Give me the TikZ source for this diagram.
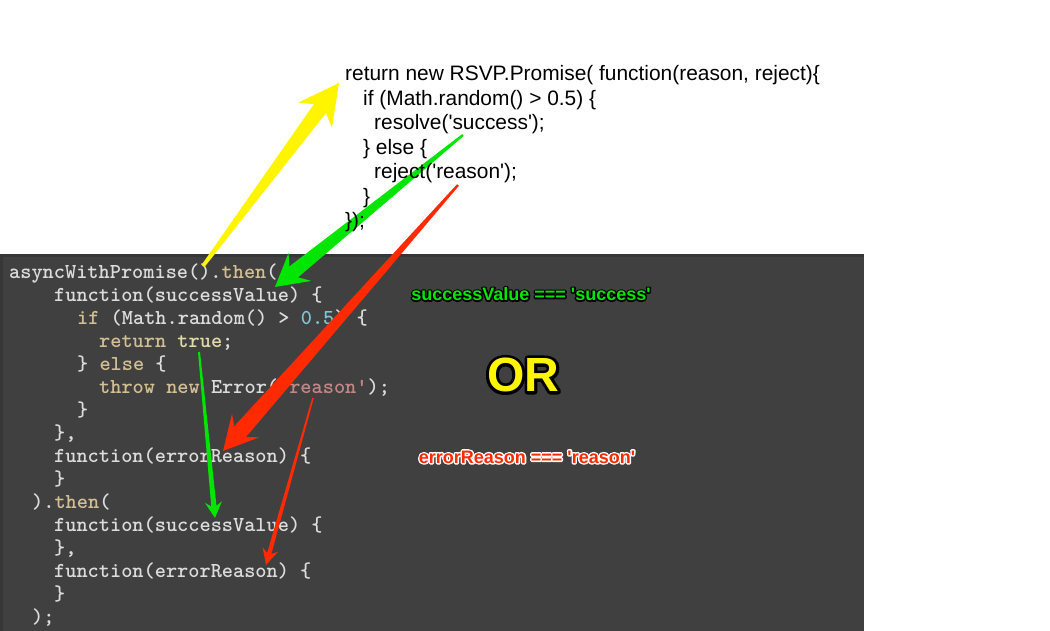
\documentclass[tikz,border=0pt]{standalone}
\usepackage{fontspec}
\usetikzlibrary{calc}
\newfontfamily\hv{Liberation Sans}
\newfontfamily\hvb{Liberation Sans Bold}
\definecolor{panelbg}{HTML}{404040}
\definecolor{paneltop}{HTML}{34373A}
\definecolor{panelleft}{HTML}{373737}
\definecolor{codefg}{HTML}{DCDCDC}
\definecolor{kwc}{HTML}{D4BF94}
\definecolor{truec}{HTML}{E2DBA6}
\definecolor{numc}{HTML}{82C6D6}
\definecolor{strc}{HTML}{C48787}
\definecolor{agreen}{HTML}{00E600}
\definecolor{ared}{HTML}{FF2A00}
\definecolor{ayellow}{HTML}{FFF500}
\newcommand\kw[1]{\textcolor{kwc}{#1}}
\newcommand\tru[1]{\textcolor{truec}{#1}}
\newcommand\nm[1]{\textcolor{numc}{#1}}
\newcommand\st[1]{\textcolor{strc}{#1}}
% outlined text: #1 outline colour, #2 stroke width (bp), #3 fill colour, #4 text
\newcommand\outlined[4]{%
  \makebox[0pt][l]{\color{#1}\special{pdf:code 1 Tr #2 w 1 j}#4\special{pdf:code 0 Tr}}%
  \textcolor{#3}{#4}}
\newcommand\tapered[8]{%
  \coordinate (#1-j) at ($(#2)!#5!(#1)$);
  \coordinate (#1-b) at ($(#2)!#6!(#1)$);
  \fill[#8] ($(#1)!#3!90:(#2)$) -- ($(#1-j)!#4!-90:(#1)$) -- ($(#1-b)!#7!-90:(#1)$)
    -- (#2) -- ($(#1-b)!#7!90:(#1)$) -- ($(#1-j)!#4!90:(#1)$) -- ($(#1)!#3!-90:(#2)$) -- cycle;}
\tikzset{
  code/.style={anchor=base west, inner sep=0pt, text=codefg,
    font=\fontsize{21.3}{23}\ttfamily\bfseries},
  top/.style={anchor=base west, inner sep=0pt, text=black,
    font=\fontsize{20.9}{24}\hv},
  lab/.style={inner sep=0pt, font=\fontsize{18}{20}\hvb}
}
\begin{document}
\begin{tikzpicture}[x=1pt,y=-1pt]
\useasboundingbox (0,0) rectangle (1050,631);
% panel
\fill[panelbg] (0,254) rectangle (864,631);
\fill[paneltop] (0,254) rectangle (864,257);
\fill[panelleft] (0,257) rectangle (3,631);
% code
\node[code] (c0) at (9,278.5) {asyncWithPromise().\kw{then}(};
\node[code] (c1) at (54,301.5) {function(successValue) \{};
\node[code] (c2) at (77,324.5) {\kw{if} (Math.random() > \nm{0.5}) \{};
\node[code] (c3) at (99,347.5) {\kw{return} \tru{true};};
\node[code] (c4) at (77,370.5) {\} \kw{else} \{};
\node[code] (c5) at (99,393.5) {\kw{throw} \kw{new} Error(\st{'reason'});};
\node[code] (c6) at (77,416.5) {\}};
\node[code] (c7) at (54,439.5) {\},};
\node[code] (c8) at (54,462.5) {function(errorReason) \{};
\node[code] (c9) at (54,485.5) {\}};
\node[code] (c10) at (32,508.5) {).\kw{then}(};
\node[code] (c11) at (54,531.5) {function(successValue) \{};
\node[code] (c12) at (54,554.5) {\},};
\node[code] (c13) at (54,577.5) {function(errorReason) \{};
\node[code] (c14) at (54,600.5) {\}};
\node[code] (c15) at (32,623.5) {);};
% arrows
\coordinate (ys) at (203,266); \coordinate (yt) at (339,83);
\tapered{ys}{yt}{1.8pt}{7.5pt}{32pt}{40pt}{21pt}{ayellow}
\coordinate (gs) at (463,135); \coordinate (gt) at (275,287);
\tapered{gs}{gt}{1.2pt}{7pt}{24pt}{32pt}{18pt}{agreen}
\coordinate (rs) at (458,185); \coordinate (rt) at (223,451);
\tapered{rs}{rt}{1.2pt}{8pt}{26pt}{34pt}{18pt}{ared}
\coordinate (g2s) at (199,352); \coordinate (g2t) at (215,518);
\tapered{g2s}{g2t}{1pt}{2.6pt}{12pt}{16pt}{8.5pt}{agreen}
\coordinate (r2s) at (313,398); \coordinate (r2t) at (266,565);
\tapered{r2s}{r2t}{0.8pt}{2.2pt}{12pt}{16pt}{8pt}{ared}
% top code
\node[top] (t0) at (345,81) {return new RSVP.Promise( function(reason, reject)\{};
\node[top] (t1) at (363,105.5) {if (Math.random() > 0.5) \{};
\node[top] (t2) at (374,130) {resolve('success');};
\node[top] (t3) at (363,154.5) {\} else \{};
\node[top] (t4) at (374,179) {reject('reason');};
\node[top] (t5) at (363,203.5) {\}};
\node[top] (t6) at (345,228) {\});};
% labels
\node[lab] (ls) at (531,294) {\outlined{black}{3}{agreen}{successValue === 'success'}};
\node[lab, font=\fontsize{48}{50}\hvb] (or) at (523,375) {\outlined{black}{6}{ayellow}{OR}};
\node[lab] (le) at (527,457) {\outlined{white}{3}{ared}{errorReason === 'reason'}};
\end{tikzpicture}
\end{document}
